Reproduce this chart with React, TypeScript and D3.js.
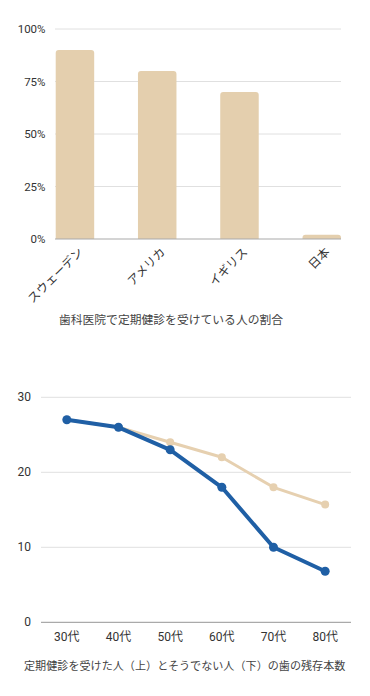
import React from "react";
import * as d3 from "d3";

const countries = ["スウェーデン", "アメリカ", "イギリス", "日本"];
const checkupRates = [90, 80, 70, 2];
const rateTicks = [0, 25, 50, 75, 100];
const barTitle = "歯科医院で定期健診を受けている人の割合";

const ageGroups = ["30代", "40代", "50代", "60代", "70代", "80代"];
const withCheckup = [27, 26, 24, 22, 18, 15.7];
const withoutCheckup = [27, 26, 23, 18, 10, 6.8];
const teethTicks = [0, 10, 20, 30];
const lineTitle = "定期健診を受けた人（上）とそうでない人（下）の歯の残存本数";

const FONT = "Roboto, 'Noto Sans CJK JP', sans-serif";

export default function App() {
  const W = 370, H = 696;
  // Bar chart scales
  const xb = d3.scaleBand<string>().domain(countries).range([55.7, 341]).paddingInner(0.532).paddingOuter(0);
  const yb = d3.scaleLinear().domain([0, 100]).range([239, 29]);
  // Line chart scales
  const xl = d3.scaleBand<string>().domain(ageGroups).range([41, 351]);
  const yl = d3.scaleLinear().domain([0, 30]).range([622.3, 397.3]);
  const cx = (a: string) => (xl(a) as number) + xl.bandwidth() / 2;
  const line = d3.line<number>().x((_, i) => cx(ageGroups[i])).y((v) => yl(v));

  const barPath = (x: number, y: number, w: number, h: number, r: number) => {
    const rr = Math.min(r, h, w / 2);
    return `M${x},${y + h}V${y + rr}Q${x},${y} ${x + rr},${y}H${x + w - rr}Q${x + w},${y} ${x + w},${y + rr}V${y + h}Z`;
  };

  return (
    <svg width={W} height={H} style={{ position: "absolute", left: 0, top: 0, background: "#fff" }} fontFamily={FONT}>
      {/* Bar chart */}
      {rateTicks.map((t) => (
        <g key={"bt" + t}>
          {t !== 0 && <line x1={55} x2={341} y1={yb(t)} y2={yb(t)} stroke="#e0e0e0" strokeWidth={1} />}
          <text x={45.5} y={yb(t)} textAnchor="end" dominantBaseline="central" fontSize={11.5} fill="#333">{t}%</text>
        </g>
      ))}
      {countries.map((c, i) => (
        <path key={c} d={barPath(xb(c) as number, yb(checkupRates[i]), xb.bandwidth(), yb(0) - yb(checkupRates[i]), 3)} fill="#e4cfae" />
      ))}
      <line x1={55} x2={341} y1={yb(0)} y2={yb(0)} stroke="#aaaaaa" strokeWidth={1.2} />
      {countries.map((c) => {
        const x = (xb(c) as number) + xb.bandwidth() / 2 + 6;
        const y = 250;
        return (
          <text key={"l" + c} transform={`translate(${x},${y}) rotate(-45)`} textAnchor="end" dominantBaseline="central" fontSize={12} fill="#333">{c}</text>
        );
      })}
      <text x={171} y={320} textAnchor="middle" dominantBaseline="central" fontSize={11.8} fill="#444">{barTitle}</text>

      {/* Line chart */}
      {teethTicks.map((t) => (
        <g key={"lt" + t}>
          <line x1={41} x2={351} y1={yl(t)} y2={yl(t)} stroke={t === 0 ? "#aaaaaa" : "#e0e0e0"} strokeWidth={t === 0 ? 1.2 : 1} />
          <text x={31} y={yl(t)} textAnchor="end" dominantBaseline="central" fontSize={12} fill="#333">{t}</text>
        </g>
      ))}
      <path d={line(withCheckup) as string} fill="none" stroke="#e6d0b0" strokeWidth={3} strokeLinejoin="round" />
      {withCheckup.map((v, i) => (
        <circle key={"a" + i} cx={cx(ageGroups[i])} cy={yl(v)} r={4} fill="#e6d0b0" />
      ))}
      <path d={line(withoutCheckup) as string} fill="none" stroke="#1f5fa5" strokeWidth={4} strokeLinejoin="round" />
      {withoutCheckup.map((v, i) => (
        <circle key={"b" + i} cx={cx(ageGroups[i])} cy={yl(v)} r={4.5} fill="#1f5fa5" />
      ))}
      {ageGroups.map((a) => (
        <text key={"x" + a} x={cx(a)} y={637} textAnchor="middle" dominantBaseline="central" fontSize={12} fill="#333">{a}</text>
      ))}
      <text x={184.7} y={666} textAnchor="middle" dominantBaseline="central" fontSize={11.1} fill="#444">{lineTitle}</text>
    </svg>
  );
}
